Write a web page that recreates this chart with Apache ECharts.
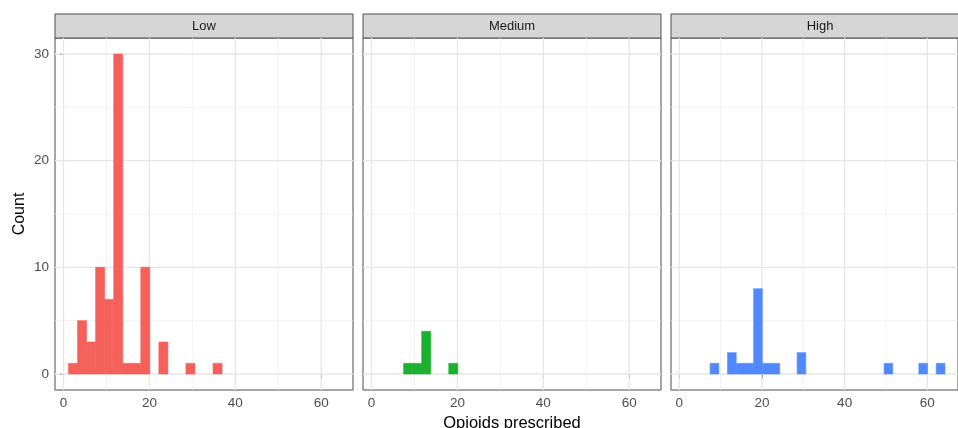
<!DOCTYPE html>
<html>
<head>
<meta charset="utf-8">
<script src="https://cdn.jsdelivr.net/npm/echarts@6/dist/echarts.min.js"></script>
<style>
html,body{margin:0;padding:0;background:#fff;}
#chart{width:958px;height:428px;}
</style>
</head>
<body>
<div id="chart"></div>
<script>
// ---- data ----
const panels = ["Low", "Medium", "High"];
const binStart = 1.17;
const binWidth = 2.103;
const lowCounts    = [1,5,3,10,7,30,1,1,10,0,3,0,0,1,0,0,1,0,0,0,0,0,0,0,0,0,0,0,0,0];
const mediumCounts = [0,0,0,1,1,4,0,0,1,0,0,0,0,0,0,0,0,0,0,0,0,0,0,0,0,0,0,0,0,0];
const highCounts   = [0,0,0,1,0,2,1,1,8,1,1,0,0,2,0,0,0,0,0,0,0,0,0,1,0,0,0,1,0,1];
const xTicks = [0, 20, 40, 60];
const xMinor = [10, 30, 50];
const yTicks = [0, 10, 20, 30];
const yMinor = [5, 15, 25];
const xLabel = "Opioids prescribed";
const yLabel = "Count";

const colors = ["#F5605B", "#19B12F", "#5089FF"];
const allCounts = [lowCounts, mediumCounts, highCounts];

// ---- layout ----
const panelLeft = [55, 363, 671];
const panelW = 298;
const plotTop = 38;
const plotH = 352;
const stripTop = 14;
const stripH = 24;
const xMin = binStart - 1.5 * binWidth;
const xMax = binStart + 31.5 * binWidth;
const yMax = 31.5, yMin = -1.5;
const font = "'Liberation Sans', Arial, Helvetica, sans-serif";

const grids = [], xAxes = [], yAxes = [], series = [], graphics = [];

function gridSeries(i, values, dir, major) {
  return {
    type: 'custom', xAxisIndex: i, yAxisIndex: i, z: 1, silent: true,
    data: values.map(v => [v]),
    encode: dir === 'h' ? {y: 0} : {x: 0},
    renderItem: function (params, api) {
      const cs = params.coordSys;
      const v = api.value(0);
      let shape;
      if (dir === 'h') {
        const y = api.coord([xMin, v])[1];
        shape = {x1: cs.x, y1: y, x2: cs.x + cs.width, y2: y};
      } else {
        const x = api.coord([v, yMin])[0];
        shape = {x1: x, y1: cs.y, x2: x, y2: cs.y + cs.height};
      }
      return {type: 'line', shape: shape,
        style: {stroke: major ? '#e6e6e6' : '#efefef', lineWidth: major ? 1.3 : 0.8}};
    }
  };
}

panels.forEach((name, i) => {
  grids.push({left: panelLeft[i], top: plotTop, width: panelW, height: plotH,
    show: true, borderColor: '#4d4d4d', borderWidth: 1, backgroundColor: 'transparent', containLabel: false});
  xAxes.push({type: 'value', gridIndex: i, min: xMin, max: xMax,
    axisLine: {show: false},
    axisTick: {show: true, customValues: xTicks, length: 4, lineStyle: {color: '#333'}},
    axisLabel: {show: true, customValues: xTicks, color: '#4d4d4d', fontSize: 13.5, fontFamily: font, margin: 6},
    splitLine: {show: false}});
  yAxes.push({type: 'value', gridIndex: i, min: yMin, max: yMax,
    axisLine: {show: false},
    axisTick: {show: i === 0, customValues: yTicks, length: 4, lineStyle: {color: '#333'}},
    axisLabel: {show: i === 0, customValues: yTicks, color: '#4d4d4d', fontSize: 13.5, fontFamily: font, margin: 6},
    splitLine: {show: false}});

  // gridlines
  series.push(gridSeries(i, yMinor, 'h', false));
  series.push(gridSeries(i, xMinor, 'v', false));
  series.push(gridSeries(i, yTicks, 'h', true));
  series.push(gridSeries(i, xTicks, 'v', true));

  // histogram bars
  const data = [];
  allCounts[i].forEach((c, k) => {
    if (c > 0) data.push([binStart + k * binWidth, binStart + (k + 1) * binWidth, c]);
  });
  series.push({type: 'custom', xAxisIndex: i, yAxisIndex: i, z: 3, data: data,
    encode: {x: [0, 1], y: 2},
    renderItem: function (params, api) {
      const p0 = api.coord([api.value(0), api.value(2)]);
      const p1 = api.coord([api.value(1), 0]);
      return {type: 'rect', shape: {x: p0[0], y: p0[1], width: p1[0] - p0[0], height: p1[1] - p0[1]},
        style: {fill: colors[i], stroke: colors[i], lineWidth: 0.6}};
    }});

  // strip
  graphics.push({type: 'rect', shape: {x: panelLeft[i], y: stripTop, width: panelW, height: stripH},
    style: {fill: '#d6d6d6', stroke: '#4d4d4d', lineWidth: 1}});
  graphics.push({type: 'text', x: panelLeft[i] + panelW / 2, y: stripTop + stripH / 2,
    style: {text: name, fill: '#1a1a1a', font: '13px ' + font, align: 'center', verticalAlign: 'middle'}});
});

graphics.push({type: 'text', x: 20, y: plotTop + plotH / 2, rotation: Math.PI / 2,
  style: {text: yLabel, fill: '#000', font: '16px ' + font, align: 'center', verticalAlign: 'middle'}});
graphics.push({type: 'text', x: (panelLeft[0] + panelLeft[2] + panelW) / 2, y: 423.5,
  style: {text: xLabel, fill: '#000', font: '16.5px ' + font, align: 'center', verticalAlign: 'middle'}});

const chart = echarts.init(document.getElementById('chart'), null, {renderer: 'canvas'});
chart.setOption({
  animation: false,
  backgroundColor: '#fff',
  grid: grids, xAxis: xAxes, yAxis: yAxes, series: series, graphic: graphics
});
</script>
</body>
</html>
